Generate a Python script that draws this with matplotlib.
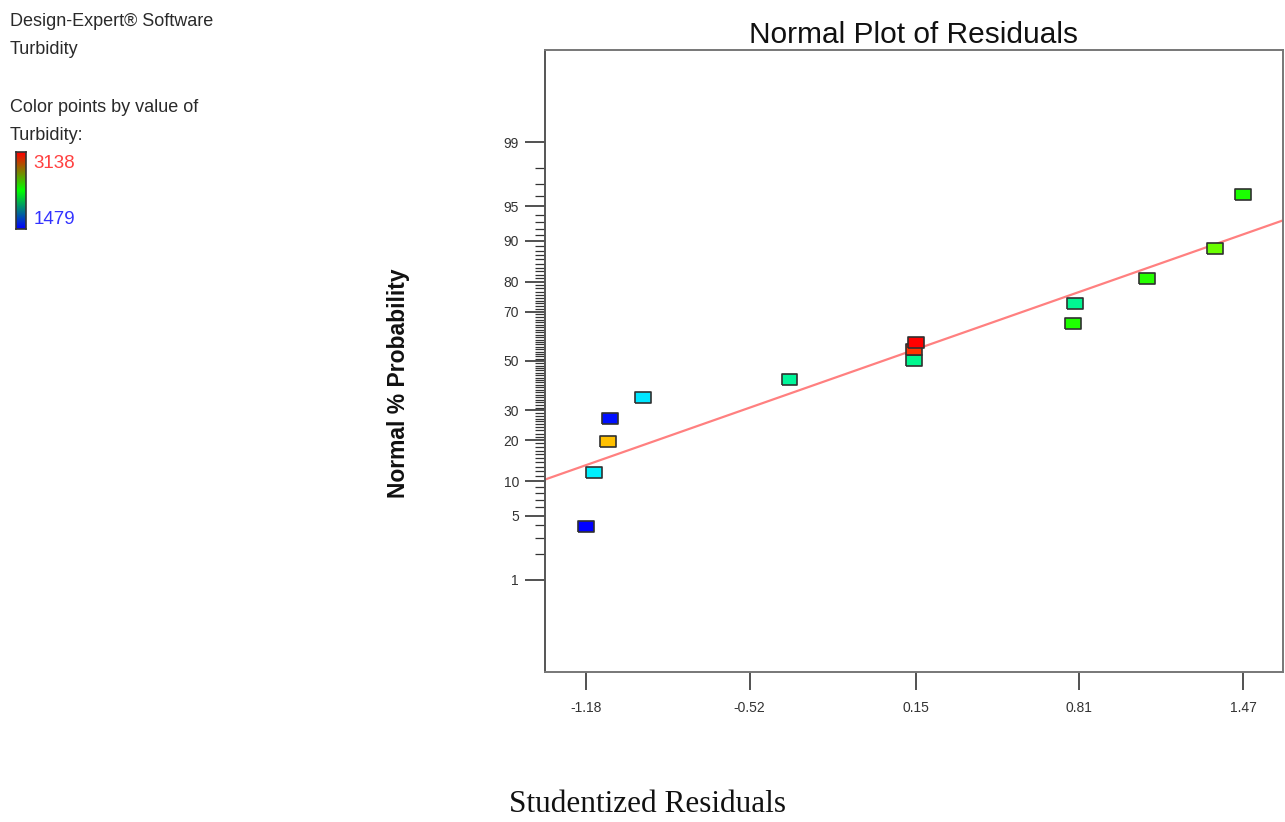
import numpy as np
import matplotlib
matplotlib.use('Agg')
import matplotlib.pyplot as plt
from matplotlib.colors import LinearSegmentedColormap, Normalize
from statistics import NormalDist

# residuals (x) and normal % probability (y)
resid = [-1.18, -1.148, -1.092, -1.084, -0.951, -0.359, 0.142, 0.142, 0.15,
         0.786, 0.794, 1.084, 1.358, 1.47]
prob = [3.9, 11.8, 19.6, 27.0, 34.9, 42.2, 50.2, 54.9, 57.8,
        65.5, 73.0, 81.0, 88.5, 96.2]
turb = [1479, 1894, 2823, 1510, 1880, 2060, 2080, 3050, 3138,
        2360, 2070, 2370, 2480, 2350]
turb_lo, turb_hi = 1479, 3138

# fitted reference line (end points at the axis edges)
line_x = [-1.345, 1.631]
line_p = [10.35, 93.27]

xticks = [-1.18, -0.52, 0.15, 0.81, 1.47]
yticks = [1, 5, 10, 20, 30, 50, 70, 80, 90, 95, 99]
yminor = [p for p in range(2, 99) if p not in yticks]

nd = NormalDist()
def fwd(p):
    p = np.clip(np.asarray(p, dtype=float), 1e-6, 100 - 1e-6)
    return np.vectorize(lambda v: nd.inv_cdf(v / 100.0))(p)
def inv(z):
    z = np.asarray(z, dtype=float)
    return np.vectorize(lambda v: nd.cdf(v) * 100.0)(z)

pt_cmap = LinearSegmentedColormap.from_list(
    'de', ['#0000ff', '#00f0ff', '#00ff00', '#ffff00', '#ff0000'])
norm = Normalize(turb_lo, turb_hi)

fig = plt.figure(figsize=(12.85, 8.22), dpi=100)
ax = fig.add_axes([0.4241, 0.1825, 0.5743, 0.7567])
ax.set_yscale('function', functions=(fwd, inv))

ax.plot(line_x, line_p, color='#ff8080', lw=1.6, zorder=2, clip_on=True)

rect = [(-1, -0.68), (1, -0.68), (1, 0.68), (-1, 0.68), (-1, -0.68)]
ax.scatter(resid, prob, c=[pt_cmap(norm(t)) for t in turb], marker=rect,
           s=130, edgecolors='#303030', linewidths=1.2, zorder=3)

ax.set_xlim(-1.345, 1.631)
ax.set_ylim(inv(-3.31), inv(3.31))

ax.set_xticks(xticks)
ax.set_xticklabels(['%.2f' % v for v in xticks], family='Liberation Sans')
ax.set_yticks(yticks)
ax.set_yticklabels([str(v) for v in yticks], family='Liberation Sans')
ax.set_yticks(yminor, minor=True)
ax.tick_params(axis='y', which='major', length=14.4, width=1.2, color='#333333',
               labelsize=10, labelcolor='#333333', pad=4.3)
ax.tick_params(axis='y', which='minor', length=7.2, width=0.9, color='#333333')
ax.tick_params(axis='x', which='major', length=13, width=1.2, color='#333333',
               labelsize=10, labelcolor='#333333', pad=8)
ax.tick_params(axis='x', which='minor', length=0)
for s in ax.spines.values():
    s.set_color('#777777')
    s.set_linewidth(1.4)
ax.spines['left'].set_color('#555555')

ax.set_title('Normal Plot of Residuals', fontsize=21.5, family='Liberation Sans',
             color='#111111', pad=5)
fig.text(0.3105, 0.534, 'Normal % Probability', rotation=90, fontsize=16.5,
         fontweight='bold', family='Liberation Sans', color='#111111',
         ha='center', va='center')
fig.text(0.504, 0.004, 'Studentized Residuals', fontsize=22.5,
         family='Liberation Serif', color='#111111', ha='center', va='bottom')

# header text
hdr = dict(fontsize=13, family='Liberation Sans', color='#2a2a2a',
           ha='left', va='center')
fig.text(10 / 1285, 1 - 22 / 822, 'Design-Expert® Software', **hdr)
fig.text(10 / 1285, 1 - 50 / 822, 'Turbidity', **hdr)
fig.text(10 / 1285, 1 - 107 / 822, 'Color points by value of', **hdr)
fig.text(10 / 1285, 1 - 135 / 822, 'Turbidity:', **hdr)

# legend colour bar
cax = fig.add_axes([16 / 1285, 1 - 229 / 822, 10 / 1285, 77 / 822])
bar_cmap = LinearSegmentedColormap.from_list('bar', ['#0000ff', '#00ff00', '#ff0000'])
cax.imshow(np.linspace(0, 1, 100).reshape(-1, 1), aspect='auto',
           cmap=bar_cmap, origin='lower')
cax.set_xticks([])
cax.set_yticks([])
for s in cax.spines.values():
    s.set_color('#333333')
    s.set_linewidth(1.2)
fig.text(33 / 1285, 1 - 163 / 822, str(turb_hi), fontsize=13.5,
         family='Liberation Sans', color='#ff4040', ha='left', va='center')
fig.text(34 / 1285, 1 - 219 / 822, str(turb_lo), fontsize=13.5,
         family='Liberation Sans', color='#3333ff', ha='left', va='center')

fig.savefig('out.png', dpi=100)
